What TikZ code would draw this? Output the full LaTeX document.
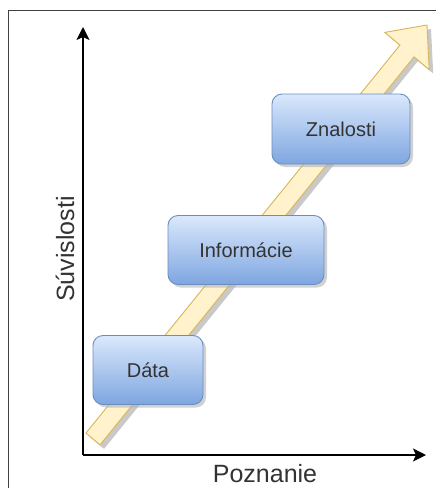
\documentclass[tikz,border=0pt]{standalone}
\usepackage{fontspec}
\setmainfont{Liberation Sans}
\usetikzlibrary{arrows.meta,shadows,shadows.blur}
\definecolor{boxtop}{HTML}{DAE8FC}
\definecolor{boxbot}{HTML}{7EA6E0}
\definecolor{boxline}{HTML}{6C8EBF}
\definecolor{arrfill}{HTML}{FFF2CC}
\definecolor{arrline}{HTML}{D6B656}
\definecolor{txt}{HTML}{333333}
\tikzset{
  stage/.style={draw=boxline, line width=0.9pt, rounded corners=10pt,
    top color=boxtop, bottom color=boxbot, text=txt,
    font=\fontsize{20}{24}\selectfont, inner sep=0pt,
    drop shadow={shadow xshift=3pt, shadow yshift=-3pt, fill=black!30, opacity=0.6}},
  axis/.style={line width=1.4pt, black, -{Stealth[length=13pt,width=13pt,inset=3pt]}},
  axlabel/.style={text=txt, font=\fontsize{25}{30}\selectfont, inner sep=0pt},
  frame/.style={line width=1pt, draw=black!75},
  bigarrow/.style={fill=arrfill, draw=arrline, line width=0.9pt, line join=miter}
}
\begin{document}
\begin{tikzpicture}[x=1pt,y=-1pt]
\useasboundingbox (0,0) rectangle (436,488);
% frame
\draw[frame] (8,488) -- (8,10.5) -- (436,10.5);
% axes
\coordinate (origin) at (83,455);
\coordinate (ytip) at (83,27);
\coordinate (xtip) at (426,455);
\draw[axis] (origin) -- (ytip);
\draw[axis] (origin) -- (xtip);
\node[axlabel] (xl) at (265,474) {Poznanie};
\node[axlabel, rotate=90] (yl) at (65,249) {Súvislosti};
% big arrow shadow
\fill[black!30, opacity=0.7, shift={(4,4)}]
  (85.95,433.1) -- (100.05,444.9) -- (414.05,56.9) -- (429.2,69.6) -- (427,25)
  -- (384.8,32.4) -- (399.95,45.1) -- cycle;
% big arrow
\draw[bigarrow]
  (85.95,433.1) -- (100.05,444.9) -- (414.05,56.9) -- (429.2,69.6) -- (427,25)
  -- (384.8,32.4) -- (399.95,45.1) -- cycle;
% boxes
\node[stage, minimum width=110pt, minimum height=69pt] (data) at (148,370) {Dáta};
\node[stage, minimum width=156pt, minimum height=69pt] (info) at (246,250) {Informácie};
\node[stage, minimum width=138pt, minimum height=70pt] (know) at (341,129) {Znalosti};
\end{tikzpicture}
\end{document}
